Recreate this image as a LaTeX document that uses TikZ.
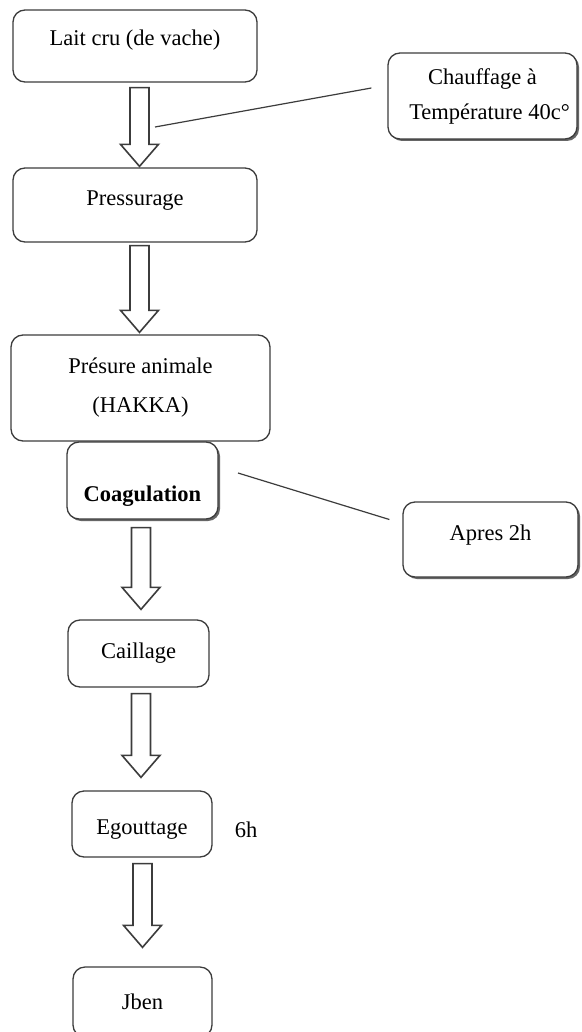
\documentclass[tikz,border=0pt]{standalone}
\usepackage{fontspec}
\setmainfont{Liberation Serif}
\usetikzlibrary{calc,shadows}
\definecolor{ln}{HTML}{3C3C3C}
\newcommand\shifttext[2]{\raisebox{#1}[\height][\depth]{#2}}
\tikzset{
  box/.style={draw=ln, line width=1.3pt, rounded corners=12pt, fill=white, align=center,
    font=\fontsize{22.5}{27}\selectfont, text=black, inner sep=0pt},
  sbox/.style={box, drop shadow={shadow xshift=2pt, shadow yshift=-2pt, fill=black!75, opacity=0.8}},
  arr/.style={draw=ln, line width=1.6pt, fill=white, line join=miter},
  conn/.style={draw=ln, line width=1.2pt},
  lbl/.style={font=\fontsize{22.5}{27}\selectfont, text=black, inner sep=0pt}
}
\newcommand\blockarr[5]{% from, to, x, top gap, tip gap
  \path (#3,0) coordinate (ax);
  \path (ax |- #1.south) coordinate (at) (ax |- #2.north) coordinate (ab);
  \draw[arr] ($(at)+(-9.5,-#4)$) -- ($(at)+(9.5,-#4)$) -- ($(ab)+(9.5,#5+22)$)
    -- ($(ab)+(19,#5+22)$) -- ($(ab)+(0,#5)$) -- ($(ab)+(-19,#5+22)$)
    -- ($(ab)+(-9.5,#5+22)$) -- cycle;}
\begin{document}
\begin{tikzpicture}[x=1pt,y=1pt]
\useasboundingbox[fill=white] (0,0) rectangle (581,-1032);
% main column
\node[box, minimum width=244, minimum height=72] (b1) at (135,-46) {\shifttext{6pt}{Lait cru (de vache)}};
\node[box, minimum width=244, minimum height=74] (b2) at (135,-205) {\shifttext{4pt}{Pressurage}};
\node[box, minimum width=259, minimum height=106] (b3) at (140.5,-388) {Présure animale\\[12pt](HAKKA)};
\node[sbox, minimum width=151, minimum height=77] (b4) at (142.5,-480.5) {\shifttext{-16pt}{\textbf{Coagulation}}};
\node[box, minimum width=141, minimum height=67] (b5) at (138.5,-653.5) {Caillage};
\node[box, minimum width=140, minimum height=66] (b6) at (142,-824) {\shifttext{-6pt}{Egouttage}};
\node[box, minimum width=139, minimum height=70] (b7) at (142.5,-1002) {Jben};
% side boxes
\node[sbox, minimum width=189, minimum height=86] (c1) at (482.5,-96) {Chauffage à\\[8pt]\hspace*{14pt}Température 40c°};
\node[sbox, minimum width=175, minimum height=75] (c2) at (490.5,-539.5) {\shifttext{4pt}{Apres 2h}};
\node[lbl] (h6) at (246,-830) {6h};
% block arrows
\blockarr{b1}{b2}{139.5}{5}{1}
\blockarr{b2}{b3}{139.5}{3}{2}
\blockarr{b4}{b5}{141}{8}{10}
\blockarr{b5}{b6}{141}{6}{13}
\blockarr{b6}{b7}{142.5}{6}{19}
% connector lines
\coordinate (l1a) at (155,-127);
\coordinate (l2a) at (238,-473);
\draw[conn] (l1a) -- ($(c1.west)+(-16,8)$);
\draw[conn] (l2a) -- ($(c2.west)+(-13,20)$);
\end{tikzpicture}
\end{document}
